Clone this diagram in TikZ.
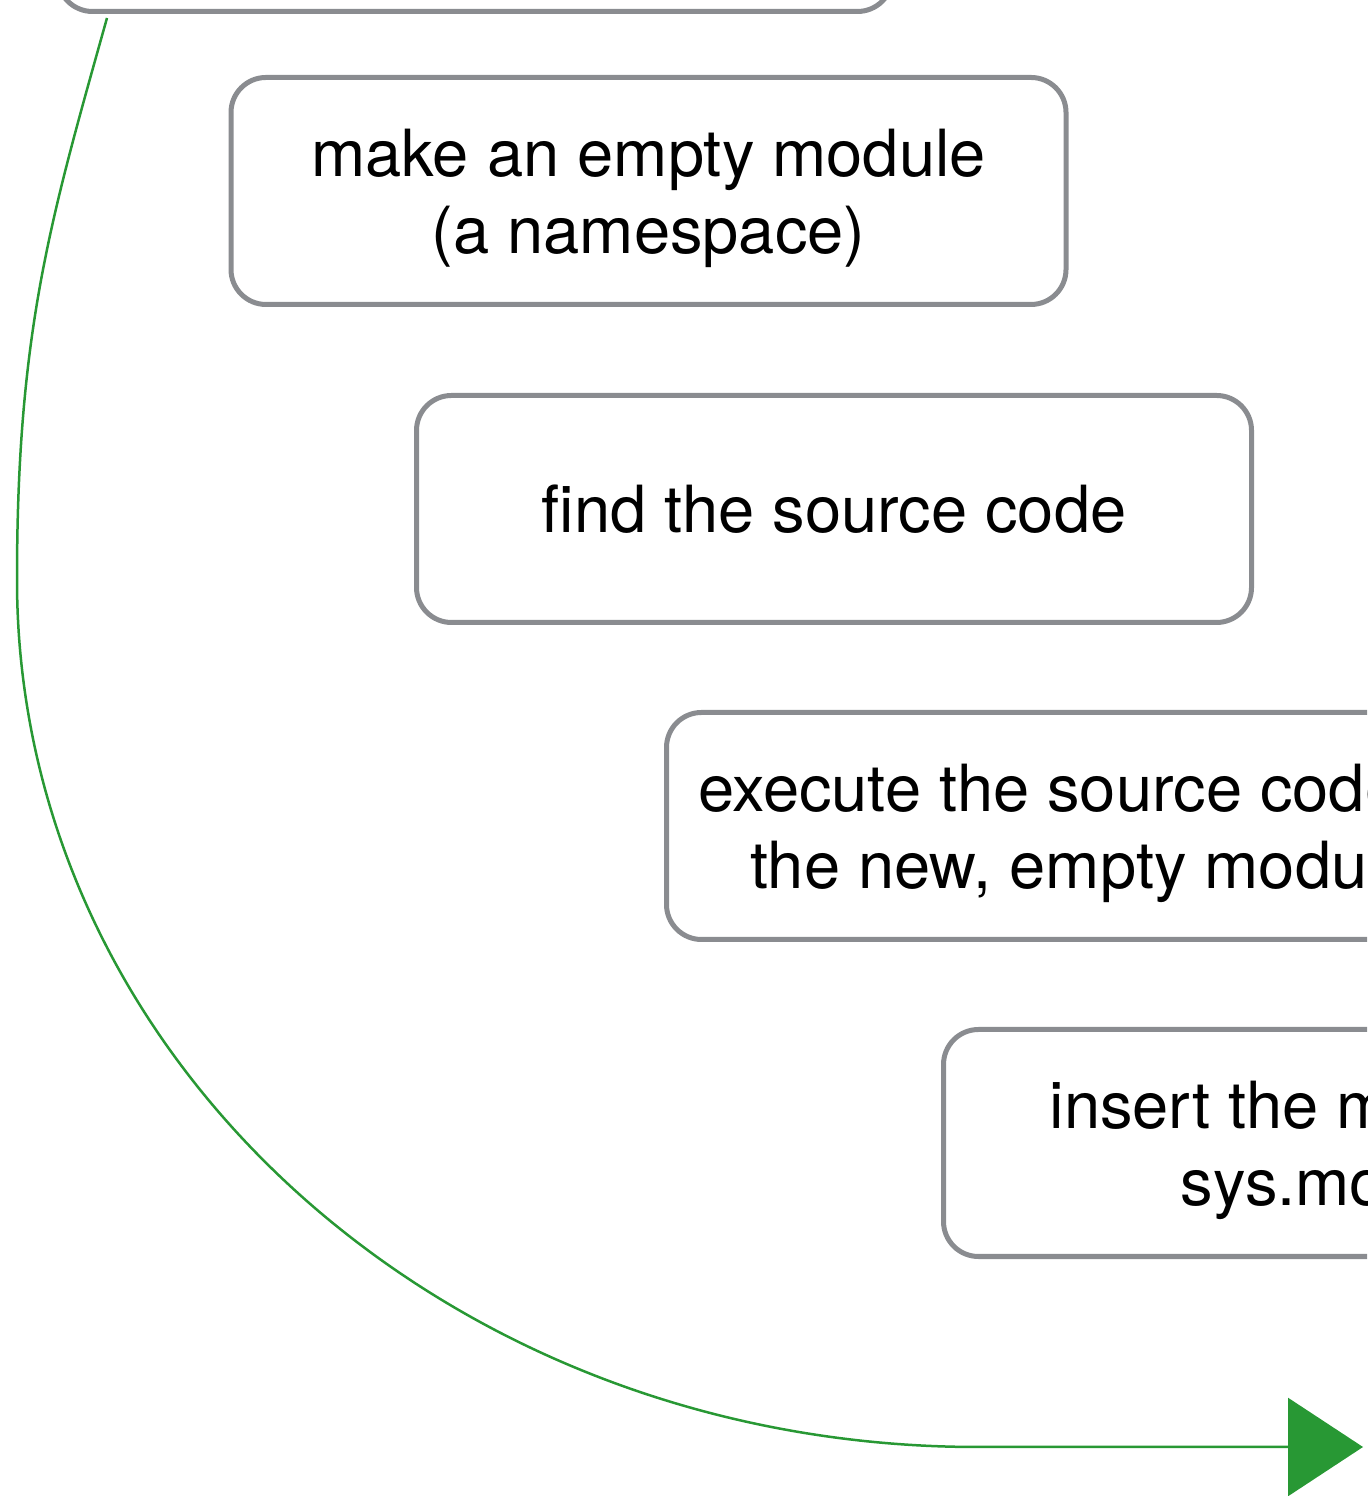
\documentclass[tikz,border=0pt]{standalone}
\usepackage{fontspec}
\setmainfont{TeX Gyre Heros}
\usetikzlibrary{positioning,arrows.meta}
\definecolor{StepGray}{RGB}{138,140,144}
\definecolor{LoopGreen}{RGB}{40,152,52}

\begin{document}
\begin{tikzpicture}[
    stepbox/.style={rectangle,rounded corners=0.35cm,draw=StepGray,line width=0.05cm,minimum width=8.35cm,minimum height=2.27cm,align=center,text depth=0pt,font=\fontsize{18.5}{22}\selectfont},
    backarrow/.style={-{Triangle[length=0.75cm,width=0.98cm]},LoopGreen,line width=0.025cm}
]
\useasboundingbox (0,0) rectangle (13.67,14.96);
\clip (0,0) rectangle (13.67,14.96);

% Steps of the import
\node[stepbox] (box1) at (4.75,15.98) {};
\node[stepbox,below=0.61cm of box1,xshift=1.735cm] (box2) {make an empty module\\(a namespace)};
\node[stepbox,below=0.86cm of box2,xshift=1.855cm] (box3) {find the source code};
\node[stepbox,below=0.85cm of box3,xshift=2.5cm] (box4) {execute the source code in\\the new, empty module};
\node[stepbox,below=0.85cm of box4,xshift=2.77cm] (box5) {insert the module into\\sys.modules};

% Return arrow
\coordinate (loop-start) at (1.07,14.78);
\coordinate (loop-end) at (13.63,0.49);
\draw[backarrow] (loop-start) .. controls (0.51,12.78) and (0.17,11.66) .. (0.17,9.16)
    .. controls (0.17,4.36) and (4.47,0.49) .. (9.78,0.49) -- (loop-end);

\end{tikzpicture}
\end{document}
